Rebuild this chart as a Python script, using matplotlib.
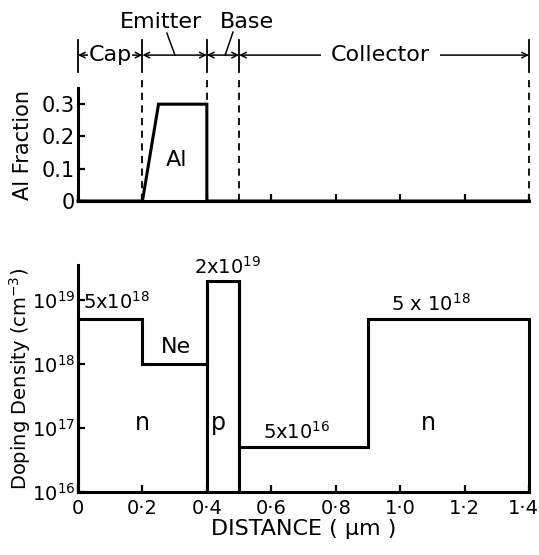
import numpy as np
import matplotlib
matplotlib.use('Agg')
import matplotlib.pyplot as plt
import matplotlib.transforms as mtransforms

plt.rcParams['font.family'] = 'DejaVu Sans'
plt.rcParams['mathtext.default'] = 'regular'

# layer boundaries (um) and doping in each layer
x_edges = [0, 0.2, 0.4, 0.5, 0.9, 1.4]
doping = [5e18, 1e18, 2e19, 5e16, 5e18]
doping_labels = ['5x10$^{18}$', 'Ne', '2x10$^{19}$', '5x10$^{16}$', '5 x 10$^{18}$']

# Al fraction profile
al_x = [0, 0.2, 0.25, 0.4, 0.4, 1.4]
al_y = [0, 0, 0.3, 0.3, 0, 0]

xticks = [0, 0.2, 0.4, 0.6, 0.8, 1.0, 1.2, 1.4]
xticklabels = ['0', '0\u00b72', '0\u00b74', '0\u00b76', '0\u00b78', '1\u00b70', '1\u00b72', '1\u00b74']
al_ticks = [0, 0.1, 0.2, 0.3]
al_ticklabels = ['0', '0.1', '0.2', '0.3']
dop_ticks = [1e16, 1e17, 1e18, 1e19]
dop_ticklabels = ['10$^{16}$', '10$^{17}$', '10$^{18}$', '10$^{19}$']

regions = ['Cap', 'Emitter', 'Base', 'Collector']

fig = plt.figure(figsize=(5.39, 5.55), dpi=100)
ax1 = fig.add_axes([0.1447, 0.6378, 0.8367, 0.2036])
ax2 = fig.add_axes([0.1447, 0.1135, 0.8367, 0.409])

LW = 2.2
for ax in (ax1, ax2):
    for s in ['top', 'right']:
        ax.spines[s].set_visible(False)
    for s in ['left', 'bottom']:
        ax.spines[s].set_linewidth(LW)
    ax.tick_params(direction='in', length=5, width=1.6, labelsize=15, pad=2)
    ax.set_xlim(0, 1.4)
    ax.set_xticks(xticks)

# ---- top panel: Al fraction
ax1.plot(al_x, al_y, color='black', lw=LW, solid_joinstyle='miter', clip_on=False, zorder=5)
ax1.set_ylim(0, 0.35)
ax1.set_yticks(al_ticks)
ax1.set_yticklabels(al_ticklabels)
ax1.tick_params(axis='x', labelbottom=False)
ax1.set_ylabel('Al Fraction', fontsize=15)
ax1.yaxis.set_label_coords(-0.10, 0.5)
ax1.text(0.305, 0.127, 'Al', fontsize=16, ha='center', va='center')

# region boundaries: dashed lines + solid markers
for xb in x_edges[1:4] + [x_edges[-1]]:
    ax1.plot([xb, xb], [0, 0.39], color='black', lw=1.3, ls=(0, (4, 3)), clip_on=False)
for xb in [x_edges[0]] + x_edges[1:4] + [x_edges[-1]]:
    ax1.plot([xb, xb], [0.40, 0.50], color='black', lw=1.3, clip_on=False)

ya = 0.452
ap = dict(arrowstyle='<->', lw=1.1, color='black', shrinkA=0, shrinkB=0,
          mutation_scale=10)
bounds = [(x_edges[0], x_edges[1]), (x_edges[1], x_edges[2]),
          (x_edges[2], x_edges[3]), (x_edges[3], x_edges[-1])]
for (a, b) in bounds:
    ax1.annotate('', xy=(a, ya), xytext=(b, ya), xycoords='data', arrowprops=ap,
                 annotation_clip=False)

ax1.text(0.1, ya, regions[0], fontsize=16, ha='center', va='center', zorder=6,
         bbox=dict(fc='white', ec='none', pad=0.5), clip_on=False)
ax1.text(0.94, ya, regions[3], fontsize=16, ha='center', va='center', zorder=6,
         bbox=dict(fc='white', ec='none', pad=7), clip_on=False)
ax1.text(0.258, 0.554, regions[1], fontsize=16, ha='center', va='center', clip_on=False)
ax1.text(0.525, 0.554, regions[2], fontsize=16, ha='center', va='center', clip_on=False)
ax1.plot([0.276, 0.301], [0.52, ya], color='black', lw=1.1, clip_on=False)
ax1.plot([0.481, 0.457], [0.523, ya], color='black', lw=1.1, clip_on=False)

# ---- bottom panel: doping profile
xs = np.concatenate([[x_edges[0]], np.repeat(x_edges, 2)[1:-1], [x_edges[-1]]])
ys = np.concatenate([[1e16], np.repeat(doping, 2), [1e16]])
ax2.plot(xs, ys, color='black', lw=LW, solid_joinstyle='miter', clip_on=False, zorder=5)
ax2.vlines([x_edges[2], x_edges[3]], 1e16, doping[2], color='black', lw=LW, zorder=5)
ax2.set_yscale('log')
ax2.set_ylim(1e16, 10 ** 19.55)
ax2.set_yticks(dop_ticks)
ax2.set_yticklabels(dop_ticklabels)
ax2.minorticks_off()
ax2.tick_params(axis='y', labelsize=14)
ax2.set_xticklabels(xticklabels)
ax2.tick_params(axis='x', labelsize=14, pad=5)
# nudge the last label so it stays inside the figure
last = ax2.get_xticklabels()[-1]
last.set_transform(last.get_transform() +
                   mtransforms.ScaledTranslation(-0.06, 0, fig.dpi_scale_trans))
ax2.set_ylabel('Doping Density (cm$^{-3}$)', fontsize=14)
ax2.yaxis.set_label_coords(-0.10, 0.5)
ax2.set_xlabel('DISTANCE ( \u00b5m )', fontsize=16, labelpad=1)

label_x = [0.12, 0.304, 0.465, 0.68, 1.096]
label_y = [10 ** 18.97, 10 ** 18.27, 10 ** 19.52, 10 ** 16.94, 10 ** 18.95]
for t, lx, ly in zip(doping_labels, label_x, label_y):
    ax2.text(lx, ly, t, fontsize=14 if t != 'Ne' else 16, ha='center', va='center', clip_on=False)

ax2.text(0.2, 10 ** 17.08, 'n', fontsize=17, ha='center', va='center')
ax2.text(0.437, 10 ** 17.08, 'p', fontsize=17, ha='center', va='center')
ax2.text(1.087, 10 ** 17.08, 'n', fontsize=17, ha='center', va='center')

fig.savefig('out.png', dpi=100)
